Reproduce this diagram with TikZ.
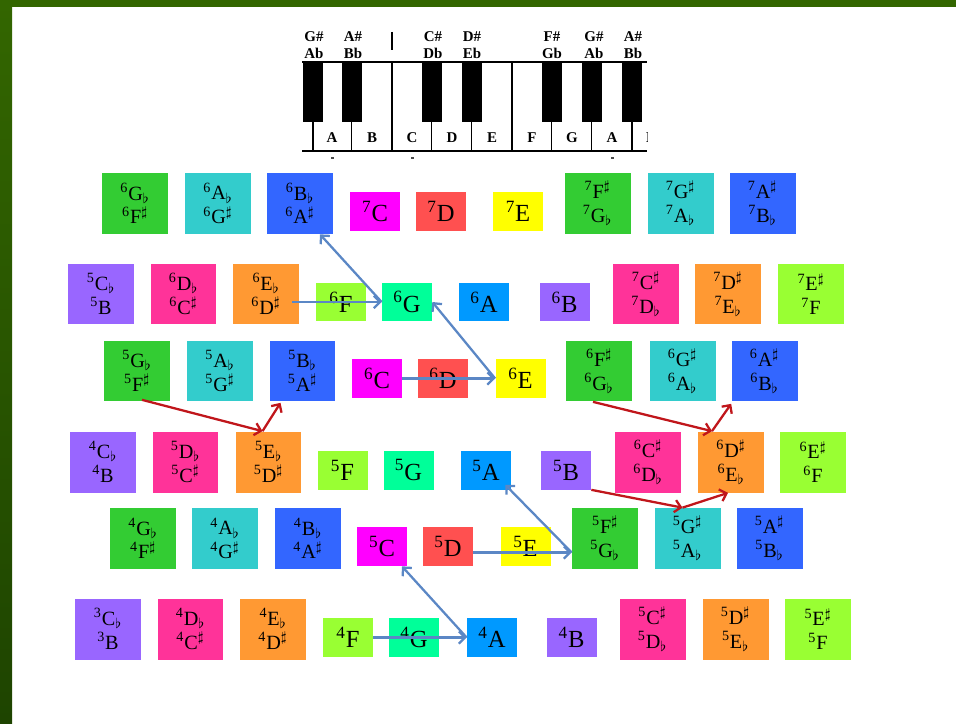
\documentclass[tikz,border=0pt]{standalone}
\usepackage{fontspec}
\setmainfont{Liberation Serif}
\usetikzlibrary{arrows.meta, calc}

\definecolor{framegreen}{HTML}{336600}
\definecolor{framedark}{HTML}{1E4400}
\definecolor{kgreen}{HTML}{33CC33}
\definecolor{kcyan}{HTML}{33CCCC}
\definecolor{kblue}{HTML}{3366FF}
\definecolor{kmagenta}{HTML}{FF00FF}
\definecolor{kred}{HTML}{FF5050}
\definecolor{kyellow}{HTML}{FFFF00}
\definecolor{kpurple}{HTML}{9966FF}
\definecolor{kpink}{HTML}{FF3399}
\definecolor{korange}{HTML}{FF9933}
\definecolor{klime}{HTML}{99FF33}
\definecolor{kspring}{HTML}{00FF99}
\definecolor{kazure}{HTML}{0099FF}
\definecolor{arrowblue}{HTML}{5B87C5}
\definecolor{arrowred}{HTML}{C0161B}

\newcommand{\oc}[1]{\textsuperscript{#1}}
\newcommand{\flt}{\textsubscript{$\flat$}}
\newcommand{\shp}{\textsuperscript{$\sharp$}}

\tikzset{
  % note boxes
  big/.style={inner sep=0,minimum width=1.32cm,minimum height=1.22cm,align=center,
    font=\fontsize{11.5}{13.6}\selectfont},
  small/.style={inner sep=0,minimum width=1cm,minimum height=0.78cm,
    font=\fontsize{14}{16}\selectfont},
  % keyboard
  keyline/.style={line width=1.1pt,black},
  keylabel/.style={inner sep=0,align=center,font=\fontsize{8.5}{9.5}\selectfont\bfseries},
  keyletter/.style={inner sep=0,font=\fontsize{8.5}{10}\selectfont\bfseries},
  % arrows
  bluearrow/.style={-{Straight Barb[length=3.5pt,width=7pt]},line width=1.3pt,arrowblue},
  redarrow/.style={-{Straight Barb[length=3.5pt,width=7pt]},line width=1.3pt,arrowred}
}

\begin{document}
\begin{tikzpicture}[x=0.02cm,y=-0.02cm]
  \useasboundingbox (0,0) rectangle (956,723);
  % frame
  \fill[framegreen] (0,0) rectangle (956,7);
  \shade[top color=framegreen,bottom color=framedark] (0,0) rectangle (12,723);

  % keyboard
  \draw[keyline] (302,62) -- (647,62);
  \draw[keyline] (302,151) -- (647,151);
  \foreach \x in {313,351.5,431.5,471.5,551.5,591.5,632} {
    \draw[keyline] (\x,122) -- (\x,151);
    \fill[black] (\x-10,62) rectangle (\x+10,122);
  }
  \foreach \x in {392,512}
    \draw[keyline] (\x,62) -- (\x,151);
  \draw[keyline] (392,32) -- (392,50);
  \node[keylabel] (lbl1) at (314,45) {G\#\\Ab};
  \node[keylabel] (lbl2) at (353,45) {A\#\\Bb};
  \node[keylabel] (lbl3) at (433,45) {C\#\\Db};
  \node[keylabel] (lbl4) at (472,45) {D\#\\Eb};
  \node[keylabel] (lbl5) at (552,45) {F\#\\Gb};
  \node[keylabel] (lbl6) at (594,45) {G\#\\Ab};
  \node[keylabel] (lbl7) at (633,45) {A\#\\Bb};
  \foreach \x/\l in {332/A,372/B,412/C,452/D,492/E,532/F,572/G,612/A}
    \node[keyletter] (key\x) at (\x,138) {\l};
  \begin{scope}
    \clip (600,120) rectangle (647,150);
    \node[keyletter] (keyB) at (651,138) {B};
  \end{scope}
  \foreach \x in {332,412,612}
    \fill[black!70] (\x-1.5,157) rectangle (\x+1.5,159);

  % row 1
  \node[big,fill=kgreen] (n6Gb) at (135,203.5) {\oc{6}G\flt\\\oc{6}F\shp};
  \node[big,fill=kcyan] (n6Ab) at (218,203.5) {\oc{6}A\flt\\\oc{6}G\shp};
  \node[big,fill=kblue] (n6Bb) at (300,203.5) {\oc{6}B\flt\\\oc{6}A\shp};
  \node[small,fill=kmagenta] (n7C) at (375,211.5) {\oc{7}C};
  \node[small,fill=kred] (n7D) at (441,211.5) {\oc{7}D};
  \node[small,fill=kyellow] (n7E) at (518,211.5) {\oc{7}E};
  \node[big,fill=kgreen] (n7Fs) at (597.5,203.5) {\oc{7}F\shp\\\oc{7}G\flt};
  \node[big,fill=kcyan] (n7Gs) at (680.5,203.5) {\oc{7}G\shp\\\oc{7}A\flt};
  \node[big,fill=kblue] (n7As) at (762.5,203.5) {\oc{7}A\shp\\\oc{7}B\flt};

  % row 2
  \node[big,fill=kpurple] (n5Cb) at (101,294) {\oc{5}C\flt\\\oc{5}B};
  \node[big,fill=kpink] (n6Db) at (183.5,294) {\oc{6}D\flt\\\oc{6}C\shp};
  \node[big,fill=korange] (n6Eb) at (266,294) {\oc{6}E\flt\\\oc{6}D\shp};
  \node[small,fill=klime] (n6F) at (341,302) {\oc{6}F};
  \node[small,fill=kspring] (n6G) at (407,302) {\oc{6}G};
  \node[small,fill=kazure] (n6A) at (484,302) {\oc{6}A};
  \node[small,fill=kpurple] (n6B) at (564.5,302) {\oc{6}B};
  \node[big,fill=kpink] (n7Cs) at (646,294) {\oc{7}C\shp\\\oc{7}D\flt};
  \node[big,fill=korange] (n7Ds) at (728,294) {\oc{7}D\shp\\\oc{7}E\flt};
  \node[big,fill=klime] (n7Es) at (811,294) {\oc{7}E\shp\\\oc{7}F};

  % row 3
  \node[big,fill=kgreen] (n5Gb) at (137,371) {\oc{5}G\flt\\\oc{5}F\shp};
  \node[big,fill=kcyan] (n5Ab) at (220,371) {\oc{5}A\flt\\\oc{5}G\shp};
  \node[big,fill=kblue] (n5Bb) at (302.5,371) {\oc{5}B\flt\\\oc{5}A\shp};
  \node[small,fill=kmagenta] (n6C) at (377,378.5) {\oc{6}C};
  \node[small,fill=kred] (n6D) at (443,378.5) {\oc{6}D};
  \node[small,fill=kyellow] (n6E) at (520.5,378.5) {\oc{6}E};
  \node[big,fill=kgreen] (n6Fs) at (599,371) {\oc{6}F\shp\\\oc{6}G\flt};
  \node[big,fill=kcyan] (n6Gs) at (682.5,371) {\oc{6}G\shp\\\oc{6}A\flt};
  \node[big,fill=kblue] (n6As) at (764.5,371) {\oc{6}A\shp\\\oc{6}B\flt};

  % row 4
  \node[big,fill=kpurple] (n4Cb) at (103,462) {\oc{4}C\flt\\\oc{4}B};
  \node[big,fill=kpink] (n5Db) at (185.5,462) {\oc{5}D\flt\\\oc{5}C\shp};
  \node[big,fill=korange] (n5Eb) at (268.5,462) {\oc{5}E\flt\\\oc{5}D\shp};
  \node[small,fill=klime] (n5F) at (342.5,470) {\oc{5}F};
  \node[small,fill=kspring] (n5G) at (408.5,470) {\oc{5}G};
  \node[small,fill=kazure] (n5A) at (486,470) {\oc{5}A};
  \node[small,fill=kpurple] (n5B) at (566,470) {\oc{5}B};
  \node[big,fill=kpink] (n6Cs) at (648,462) {\oc{6}C\shp\\\oc{6}D\flt};
  \node[big,fill=korange] (n6Ds) at (731,462) {\oc{6}D\shp\\\oc{6}E\flt};
  \node[big,fill=klime] (n6Es) at (813,462) {\oc{6}E\shp\\\oc{6}F};

  % row 5
  \node[big,fill=kgreen] (n4Gb) at (143,538.5) {\oc{4}G\flt\\\oc{4}F\shp};
  \node[big,fill=kcyan] (n4Ab) at (225,538.5) {\oc{4}A\flt\\\oc{4}G\shp};
  \node[big,fill=kblue] (n4Bb) at (308,538.5) {\oc{4}B\flt\\\oc{4}A\shp};
  \node[small,fill=kmagenta] (n5C) at (382,546.5) {\oc{5}C};
  \node[small,fill=kred] (n5D) at (448,546.5) {\oc{5}D};
  \node[small,fill=kyellow] (n5E) at (525.5,546.5) {\oc{5}E};
  \node[big,fill=kgreen] (n5Fs) at (605,538.5) {\oc{5}F\shp\\\oc{5}G\flt};
  \node[big,fill=kcyan] (n5Gs) at (687.5,538.5) {\oc{5}G\shp\\\oc{5}A\flt};
  \node[big,fill=kblue] (n5As) at (769.5,538.5) {\oc{5}A\shp\\\oc{5}B\flt};

  % row 6
  \node[big,fill=kpurple] (n3Cb) at (108,629) {\oc{3}C\flt\\\oc{3}B};
  \node[big,fill=kpink] (n4Db) at (190.5,629) {\oc{4}D\flt\\\oc{4}C\shp};
  \node[big,fill=korange] (n4Eb) at (273,629) {\oc{4}E\flt\\\oc{4}D\shp};
  \node[small,fill=klime] (n4F) at (348,637.5) {\oc{4}F};
  \node[small,fill=kspring] (n4G) at (414,637.5) {\oc{4}G};
  \node[small,fill=kazure] (n4A) at (492,637.5) {\oc{4}A};
  \node[small,fill=kpurple] (n4B) at (571.5,637.5) {\oc{4}B};
  \node[big,fill=kpink] (n5Cs) at (652.5,629) {\oc{5}C\shp\\\oc{5}D\flt};
  \node[big,fill=korange] (n5Ds) at (735.5,629) {\oc{5}D\shp\\\oc{5}E\flt};
  \node[big,fill=klime] (n5Es) at (818,629) {\oc{5}E\shp\\\oc{5}F};

  % blue paths
  \draw[bluearrow] ($(n6Eb.east)+(-7,8)$) -- (n6G.west);
  \draw[bluearrow] (n6G.west) -- ($(n6Bb.south)+(20,0)$);
  \draw[bluearrow] (n6C.east) -- (n6E.west);
  \draw[bluearrow] (n6E.west) -- (n6G.east);
  \draw[bluearrow] ($(n5D.east)+(0,6)$) -- ($(n5Fs.west)+(0,14)$);
  \draw[bluearrow] ($(n5Fs.west)+(0,14)$) -- ($(n5A.south east)+(-6,-5)$);
  \draw[bluearrow] (n4F.east) -- (n4A.west);
  \draw[bluearrow] (n4A.west) -- ($(n5C.south)+(20,0)$);

  % red paths
  \coordinate (r1) at ($(n5Eb.north)+(-6,0)$);
  \draw[redarrow] ($(n5Gb.south)+(5,-2)$) -- (r1);
  \draw[redarrow] (r1) -- ($(n5Bb.south)+(-22,1)$);
  \coordinate (r2) at ($(n6Ds.north)+(-19,0)$);
  \draw[redarrow] ($(n6Fs.south)+(-6,0)$) -- (r2);
  \draw[redarrow] (r2) -- ($(n6As.south west)+(0,2)$);
  \coordinate (r3) at ($(n5Gs.north)+(-5,0)$);
  \draw[redarrow] (n5B.south east) -- (r3);
  \draw[redarrow] (r3) -- ($(n6Ds.south)+(-3,0)$);
\end{tikzpicture}
\end{document}
